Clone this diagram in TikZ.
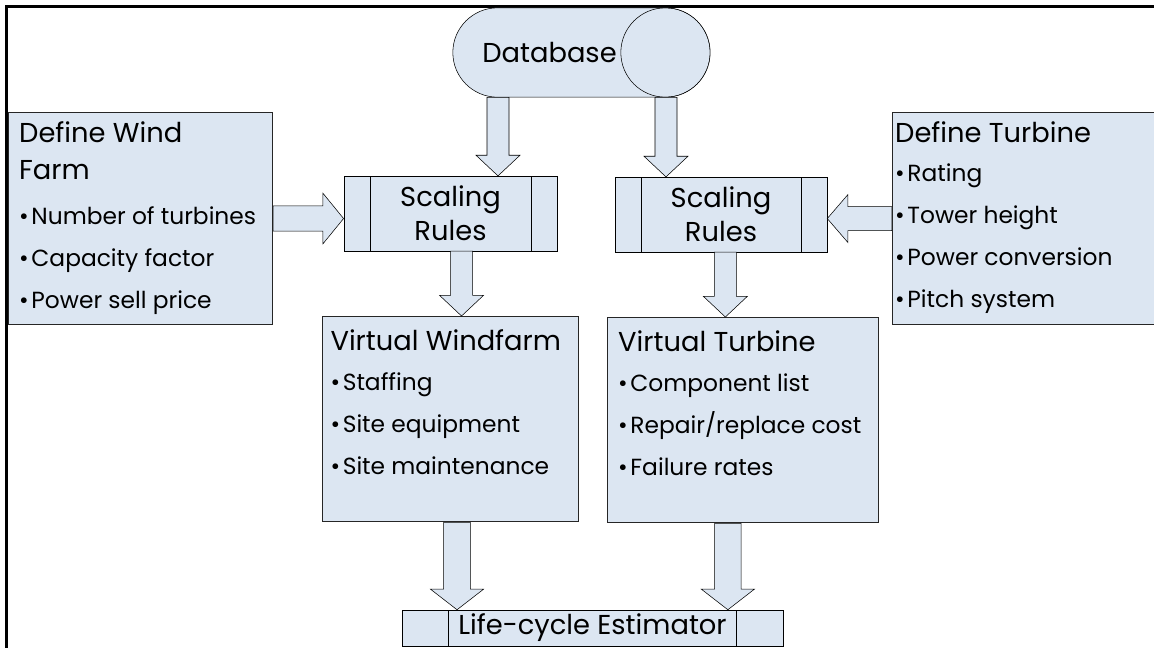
\documentclass[tikz,border=0pt]{standalone}
\usepackage{fontspec}
\setmainfont{Poppins}
\usepackage{tikz}
\usetikzlibrary{shapes.misc,calc}

\definecolor{boxblue}{RGB}{220,230,242}

\newcommand{\headfont}{\fontsize{20.5}{27.75}\selectfont}
\newcommand{\itemfont}{\fontsize{17.5}{31.5}\selectfont}
\newcommand{\bul}{\textbullet\kern2pt}

% fat outlined arrow from #2 to #3, #1 = half shaft width
\newcommand{\blockarrow}[3][8.25pt]{%
  \coordinate (bh) at ($(#3)!15.5pt!(#2)$);
  \draw[blk] ($(#2)!#1!90:(#3)$) -- ($(bh)!#1!90:(#3)$) -- ($(bh)!2*#1!90:(#3)$) -- (#3)
    -- ($(bh)!2*#1!-90:(#3)$) -- ($(bh)!#1!-90:(#3)$) -- ($(#2)!#1!-90:(#3)$) -- cycle;}

\tikzset{
  panel/.style={draw=black!85, line width=0.8pt, fill=boxblue, inner xsep=8pt, inner ysep=6pt, anchor=north west},
  rules/.style={draw=black, fill=boxblue, align=center, inner sep=0pt, font=\headfont,
    path picture={
      \draw ([xshift=#1]path picture bounding box.north west) -- ([xshift=#1]path picture bounding box.south west);
      \draw ([xshift=-#1]path picture bounding box.north east) -- ([xshift=-#1]path picture bounding box.south east);}},
  rules/.default=19.5pt,
  store/.style={shape=rounded rectangle, draw=black, fill=boxblue, inner sep=0pt, font=\headfont,
    path picture={\draw ([xshift=-33.5pt]path picture bounding box.east) circle (33.5pt);}},
  blk/.style={draw=black, fill=boxblue, line join=miter},
}

\begin{document}
\begin{tikzpicture}[x=0.75pt, y=-0.75pt]
	\useasboundingbox (0,0) rectangle (1154,647);

	% frame
	\draw[line width=2.25pt] (6.5,660) -- (6.5,6.5) -- (1170,6.5);

	\node[store, minimum width=193pt, minimum height=67pt] (db) at (581.5, 52.5) {Database\rule{48pt}{0pt}};

	\node[panel, inner ysep=3pt] (wf) at (8, 112) {\parbox[t][153pt][t]{182pt}{\raggedright
		{\headfont\strut Define Wind\\Farm\par}\vspace{2.5pt}
		{\itemfont\bul Number of turbines\\\bul Capacity factor\\\bul Power sell price\par}}};
	\node[panel, inner ysep=3pt, inner xsep=2pt] (dt) at (892, 112) {\parbox[t][153pt][t]{194pt}{\raggedright
		{\headfont\strut Define Turbine\par}\vspace{-2.5pt}
		{\itemfont\bul Rating\\\bul Tower height\\\bul Power conversion\\\bul Pitch system\par}}};

	\node[rules, minimum width=160pt, minimum height=56pt] (sl) at (450.5, 213.5) {Scaling\\[-2pt]Rules};
	\node[rules, minimum width=159pt, minimum height=56pt] (sr) at (721, 214.5) {Scaling\\[-2pt]Rules};

	\node[panel, inner xsep=6pt] (vw) at (322, 316) {\parbox[t][142pt][t]{180pt}{\raggedright
		{\headfont\strut Virtual Windfarm\par}\vspace{-1.5pt}
		{\itemfont\bul Staffing\\\bul Site equipment\\\bul Site maintenance\par}}};
	\node[panel] (vt) at (607, 317) {\parbox[t][142pt][t]{187pt}{\raggedright
		{\headfont\strut Virtual Turbine\par}\vspace{-1.5pt}
		{\itemfont\bul Component list\\\bul Repair/replace cost\\\bul Failure rates\par}}};

	\node[rules=35pt, minimum width=286pt, minimum height=27pt] (lc) at (592.5, 628) {Life-cycle Estimator};

	\coordinate (a1) at ($(sl.north)+(47.5,0)$);
	\coordinate (a2) at ($(sr.north)+(-55,0)$);
	\coordinate (a3) at ($(vw.north)+(11,0)$);
	\coordinate (a4) at ($(vt.north)+(-17.5,0)$);
	\coordinate (a5) at ($(lc.north -| vw.south)+(6.5,0)$);
	\coordinate (a6) at ($(lc.north -| vt.south)+(-15,0)$);

	\blockarrow{db.south -| a1}{a1}
	\blockarrow{db.south -| a2}{a2}
	\blockarrow[9.5pt]{wf.east}{wf.east -| sl.west}
	\blockarrow[9pt]{dt.west}{dt.west -| sr.east}
	\blockarrow{sl.south -| a3}{a3}
	\blockarrow{sr.south -| a4}{a4}
	\blockarrow[10pt]{vw.south -| a5}{a5}
	\blockarrow[10pt]{vt.south -| a6}{a6}

\end{tikzpicture}
\end{document}
